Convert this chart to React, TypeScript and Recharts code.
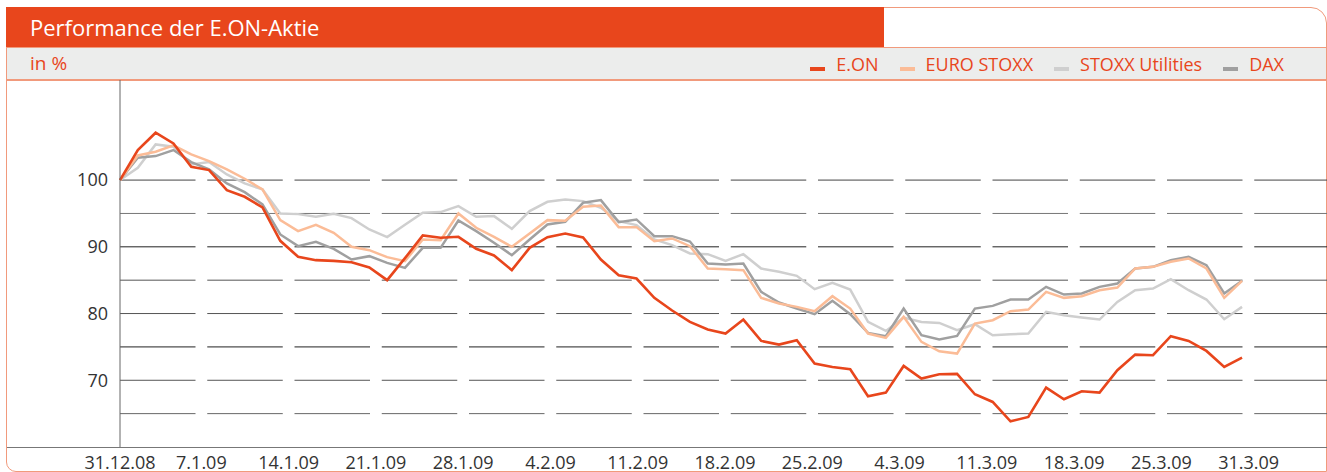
import React from 'react';
import { LineChart, Line, XAxis, YAxis, ReferenceLine } from 'recharts';

const eon = [
  100, 104.5, 107.1, 105.5, 102.0, 101.5, 98.5, 97.5, 95.9, 90.9,
  88.5, 88.0, 87.9, 87.7, 86.9, 85.0, 88.3, 91.7, 91.35, 91.5,
  89.7, 88.7, 86.5, 89.85, 91.45, 92.0, 91.4, 88.1, 85.75, 85.25,
  82.35, 80.45, 78.75, 77.6, 77.0, 79.1, 75.9, 75.35, 76.0, 72.5,
  72.0, 71.65, 67.6, 68.15, 72.15, 70.25, 70.9, 70.95, 67.9, 66.75,
  63.85, 64.5, 68.9, 67.15, 68.35, 68.15, 71.5, 73.85, 73.75, 76.6,
  75.9, 74.4, 72.0, 73.4,
];

const euroStoxx = [
  100, 103.7, 104.25, 105.2, 103.85, 102.85, 101.6, 100.2, 98.6, 94.0,
  92.35, 93.3, 92.1, 90.0, 89.5, 88.45, 87.85, 91.1, 91.0, 95.0,
  92.85, 91.5, 90.0, 92.0, 94.0, 93.9, 96.0, 96.2, 92.95, 92.95,
  90.85, 91.25, 90.1, 86.75, 86.65, 86.5, 82.35, 81.5, 81.0, 80.35,
  82.6, 80.75, 77.0, 76.35, 79.5, 75.75, 74.35, 74.0, 78.5, 79.0,
  80.35, 80.6, 83.25, 82.35, 82.6, 83.5, 83.9, 86.75, 87.0, 87.75,
  88.25, 86.75, 82.35, 84.9,
];

const stoxxUtilities = [
  100, 101.85, 105.35, 105.0, 102.35, 102.7, 100.85, 99.5, 98.6, 95.0,
  94.9, 94.5, 94.95, 94.3, 92.6, 91.45, 93.3, 95.1, 95.2, 96.1,
  94.5, 94.6, 92.7, 95.35, 96.75, 97.1, 96.85, 95.85, 93.85, 93.25,
  91.1, 90.25, 89.0, 88.9, 87.9, 88.9, 86.75, 86.25, 85.65, 83.65,
  84.6, 83.6, 78.75, 77.4, 79.4, 78.75, 78.6, 77.5, 78.4, 76.75,
  76.9, 77.0, 80.25, 79.75, 79.4, 79.1, 81.75, 83.5, 83.75, 85.15,
  83.5, 82.1, 79.15, 81.0,
];

const dax = [
  100, 103.35, 103.6, 104.5, 102.7, 101.6, 99.5, 98.2, 96.35, 91.85,
  90.1, 90.75, 89.7, 88.1, 88.6, 87.6, 86.85, 89.85, 89.85, 93.95,
  92.35, 90.6, 88.75, 91.1, 93.35, 93.75, 96.6, 97.0, 93.7, 94.1,
  91.6, 91.6, 90.8, 87.5, 87.35, 87.5, 83.25, 81.65, 80.75, 79.9,
  81.9, 79.9, 77.1, 76.6, 80.75, 76.75, 76.1, 76.65, 80.75, 81.15,
  82.1, 82.1, 84.0, 82.85, 83.0, 84.0, 84.5, 86.75, 87.0, 88.0,
  88.5, 87.25, 83.0, 84.9,
];

const xTickLabels = [
  '31.12.08', '7.1.09', '14.1.09', '21.1.09', '28.1.09', '4.2.09', '11.2.09',
  '18.2.09', '25.2.09', '4.3.09', '11.3.09', '18.3.09', '25.3.09', '31.3.09',
];
const xTickPositions = [
  0, 4.57, 9.47, 14.37, 19.27, 24.17, 29.07, 33.97, 38.87, 43.77, 48.67, 53.57, 58.47, 63.37,
];
const yTicks = [65, 70, 75, 80, 85, 90, 95, 100];

const seriesNames = ['E.ON', 'EURO STOXX', 'STOXX Utilities', 'DAX'];
const seriesColors = ['#E8461C', '#FBBC97', '#CFCFCF', '#A0A0A0'];
const gridColors = ['#666', '#555', '#222', '#555', '#555', '#222', '#777', '#444'];

const data = eon.map((v, i) => ({
  i,
  eon: v,
  euroStoxx: euroStoxx[i],
  stoxxUtilities: stoxxUtilities[i],
  dax: dax[i],
}));

const FONT = "'Open Sans', sans-serif";
const ORANGE = '#E8461C';
const FRAME = '#F19A7C';

export default function App() {
  return (
    <div
      style={{
        position: 'absolute',
        left: 0,
        top: 0,
        width: 1327,
        height: 472,
        overflow: 'hidden',
        background: '#fff',
        fontFamily: FONT,
      }}
    >
      {/* frame */}
      <div
        style={{
          position: 'absolute',
          left: 6,
          top: 7,
          width: 1321,
          height: 465,
          boxSizing: 'border-box',
          border: `1px solid ${FRAME}`,
          borderTopRightRadius: 16,
          borderBottomLeftRadius: 10,
        }}
      />
      {/* band */}
      <div
        style={{
          position: 'absolute',
          left: 7,
          top: 47,
          width: 1319,
          height: 34,
          boxSizing: 'border-box',
          background: '#ECEDEC',
          borderTop: `1px solid ${FRAME}`,
          borderBottom: `2px solid ${FRAME}`,
        }}
      >
        <div
          style={{
            position: 'absolute',
            left: 23,
            top: 0,
            lineHeight: '31px',
            fontSize: 19,
            color: ORANGE,
          }}
        >
          in %
        </div>
        <div
          style={{
            position: 'absolute',
            right: 42,
            top: 1,
            height: 31,
            display: 'flex',
            alignItems: 'center',
            fontSize: 18,
            color: ORANGE,
          }}
        >
          {seriesNames.map((n, k) => (
            <div key={n} style={{ display: 'flex', alignItems: 'center', marginLeft: k === 0 ? 0 : 21 }}>
              <span
                style={{
                  display: 'inline-block',
                  width: 15,
                  height: 4,
                  background: seriesColors[k],
                  position: 'relative',
                  top: 4,
                  marginRight: 11,
                }}
              />
              <span style={{ lineHeight: '31px' }}>{n}</span>
            </div>
          ))}
        </div>
      </div>
      {/* title bar */}
      <div
        style={{
          position: 'absolute',
          left: 6,
          top: 7,
          width: 878,
          height: 40,
          background: ORANGE,
          color: '#fff',
          fontSize: 22,
          lineHeight: '40px',
          paddingLeft: 24,
          boxSizing: 'border-box',
        }}
      >
        Performance der E.ON-Aktie
      </div>
      {/* chart */}
      <div style={{ position: 'absolute', left: 0, top: 80 }}>
        <LineChart width={1327} height={392} data={data} margin={{ top: 0, right: 0, bottom: 0, left: 0 }}>
          <XAxis
            type="number"
            dataKey="i"
            domain={[0, 67.77]}
            ticks={xTickPositions}
            interval={0}
            tickFormatter={(v: number) => {
              const k = xTickPositions.indexOf(v);
              return k >= 0 ? xTickLabels[k] : '';
            }}
            height={25}
            axisLine={false}
            tickLine={false}
            tickSize={6}
            tickMargin={3}
            tick={{ fontFamily: FONT, fontSize: 18, fill: '#333' }}
          />
          <YAxis
            type="number"
            domain={[60, 115]}
            ticks={yTicks}
            interval={0}
            width={120}
            tickFormatter={(v: number) => (v % 10 === 0 ? String(v) : '')}
            axisLine={{ stroke: '#666', strokeWidth: 1 }}
            tickLine={false}
            tickSize={6}
            tickMargin={6}
            tick={{ fontFamily: FONT, fontSize: 18, fill: '#333' }}
          />
          {yTicks.map((t, k) => (
            <ReferenceLine
              key={t}
              y={t}
              stroke={gridColors[k]}
              strokeWidth={1}
              strokeDasharray="75.5 11.75"
              ifOverflow="hidden"
            />
          ))}
          <Line type="linear" dataKey="stoxxUtilities" stroke={seriesColors[2]} strokeWidth={2.5} dot={false} isAnimationActive={false} />
          <Line type="linear" dataKey="dax" stroke={seriesColors[3]} strokeWidth={2.5} dot={false} isAnimationActive={false} />
          <Line type="linear" dataKey="euroStoxx" stroke={seriesColors[1]} strokeWidth={2.5} dot={false} isAnimationActive={false} />
          <Line type="linear" dataKey="eon" stroke={seriesColors[0]} strokeWidth={2.6} dot={false} isAnimationActive={false} />
        </LineChart>
      </div>
      {/* x axis baseline across full width */}
      <div style={{ position: 'absolute', left: 7, top: 447, width: 1320, height: 1, background: '#777' }} />
    </div>
  );
}
